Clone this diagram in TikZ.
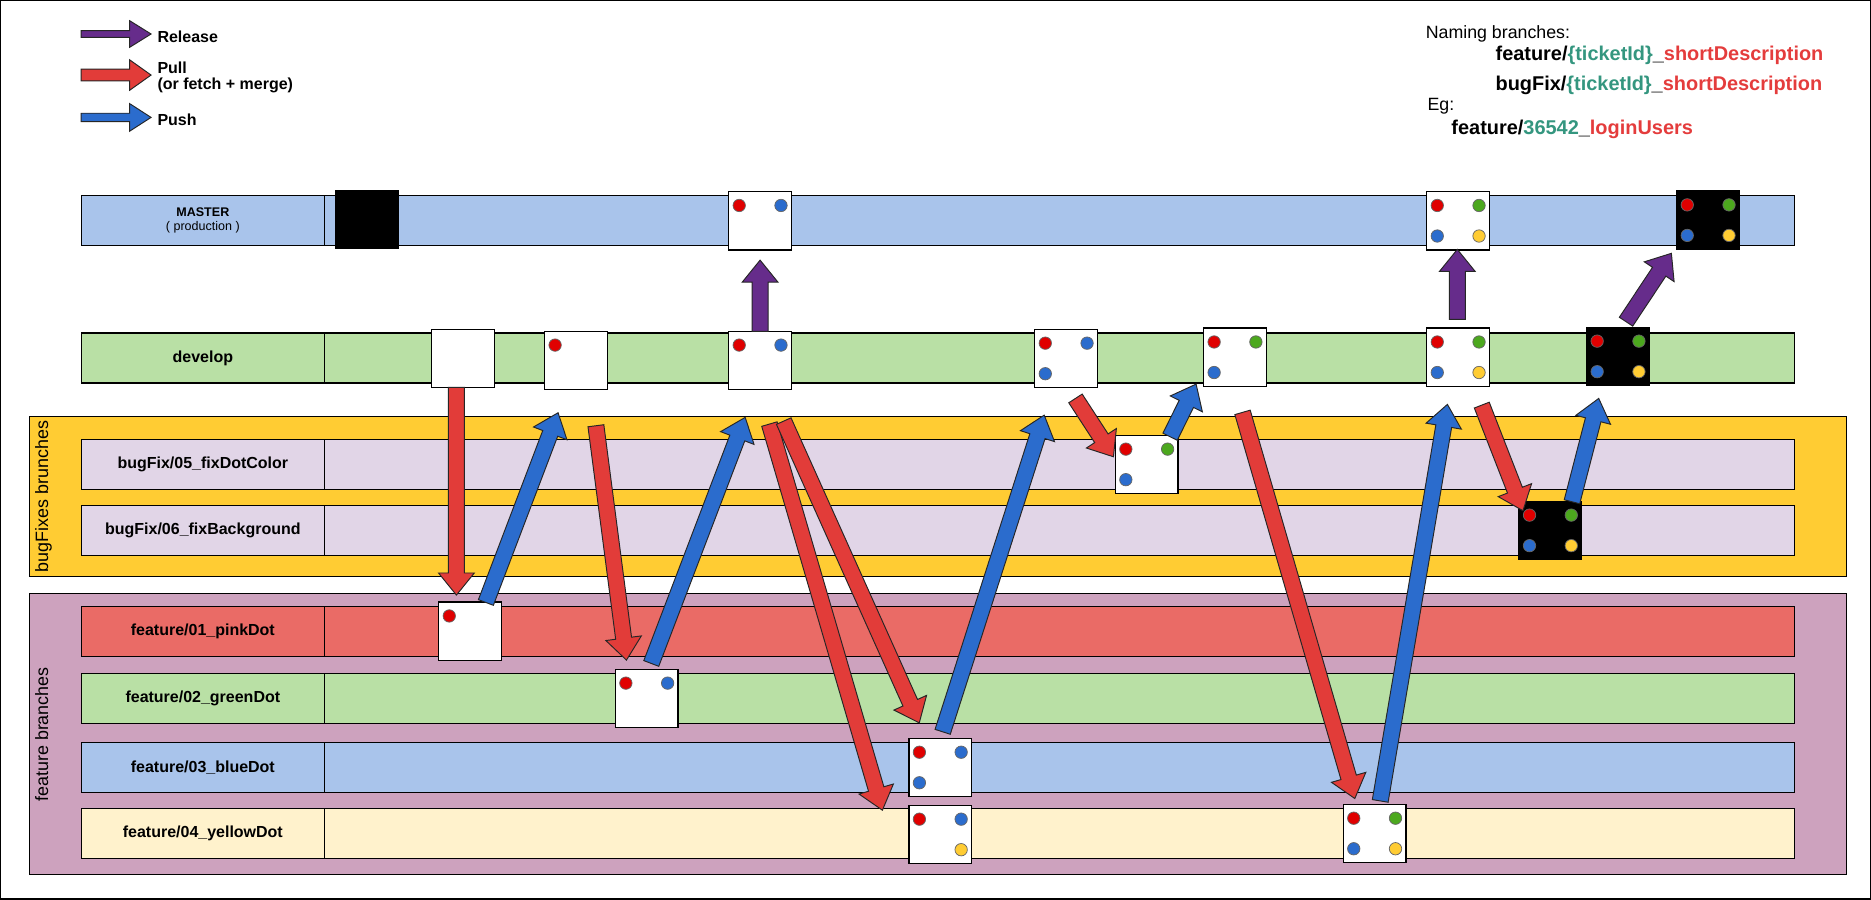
\documentclass[tikz,border=0pt]{standalone}
\usepackage{fontspec}
\setmainfont{Liberation Sans}
\usetikzlibrary{calc}

\definecolor{masterblue}{HTML}{A9C4EB}
\definecolor{devgreen}{HTML}{B9E0A5}
\definecolor{fixorange}{HTML}{FFCC33}
\definecolor{fixlilac}{HTML}{E1D5E7}
\definecolor{featmauve}{HTML}{CDA2BE}
\definecolor{pinkred}{HTML}{EA6B66}
\definecolor{lightyellow}{HTML}{FFF2CC}
\definecolor{pullred}{HTML}{E23C39}
\definecolor{pushblue}{HTML}{2B6CCD}
\definecolor{relpurple}{HTML}{662C8B}
\definecolor{dred}{HTML}{E00000}
\definecolor{dblue}{HTML}{2B6CCD}
\definecolor{dgreen}{HTML}{4CA81E}
\definecolor{dyellow}{HTML}{FFCC33}
\definecolor{idteal}{HTML}{34967F}
\definecolor{descred}{HTML}{E43C3C}

\tikzset{
	bodyw/.store in=\bodyw, headw/.store in=\headw, headl/.store in=\headl,
	bodyw=3.35pt, headw=7.5pt, headl=9.25pt,
	blockarrow/.style={draw=black!85, line width=0.4pt, fill=#1, line join=miter,
		to path={(\tikztostart) coordinate (bas) (\tikztotarget) coordinate (bat)
			($(bat)!\headl!(bas)$) coordinate (bah)
			($(bas)!\bodyw!90:(bat)$) -- ($(bah)!\bodyw!90:(bat)$) -- ($(bah)!\headw!90:(bat)$)
			-- (bat) -- ($(bah)!\headw!-90:(bat)$) -- ($(bah)!\bodyw!-90:(bat)$)
			-- ($(bas)!\bodyw!-90:(bat)$) -- cycle}},
	pullarrow/.style={blockarrow=pullred},
	pusharrow/.style={blockarrow=pushblue},
	releasearrow/.style={blockarrow=relpurple},
	lane/.style={draw, line width=0.5pt, fill=#1, minimum width=616pt, minimum height=21pt, inner sep=0pt},
	lanelabel/.style={draw, line width=0.5pt, fill=#1, minimum width=102pt, minimum height=21pt,
		inner sep=0pt, font=\bfseries\fontsize{6.7}{8}\selectfont},
	branchgroup/.style={draw, line width=0.5pt, fill=#1},
	grouptxt/.style={rotate=90, inner sep=0pt, font=\fontsize{7.5}{9}\selectfont},
	commit/.style={draw, line width=0.5pt, fill=white, minimum width=26.25pt, minimum height=24.5pt, inner sep=0pt},
	dot/.style={circle, draw=black!60, line width=0.3pt, fill=#1, minimum size=5.2pt, inner sep=0pt},
	dotTL/.style={xshift=-8.75pt, yshift=6.4pt},
	dotTR/.style={xshift=8.75pt, yshift=6.4pt},
	dotBL/.style={xshift=-8.75pt, yshift=-6.4pt},
	dotBR/.style={xshift=8.75pt, yshift=-6.4pt},
	legendtxt/.style={anchor=base west, inner sep=0pt, font=\bfseries\fontsize{6.7}{8}\selectfont},
	nametxt/.style={anchor=base west, inner sep=0pt, font=\bfseries\fontsize{8.35}{10}\selectfont},
	plaintxt/.style={anchor=base west, inner sep=0pt, font=\fontsize{7.45}{9}\selectfont}
}

\begin{document}
\begin{tikzpicture}[x=0.5pt, y=-0.5pt]
	\useasboundingbox (0,0) rectangle (1568,754);
	\draw[line width=0.6pt] (0.6,0.6) rectangle (1567.4,753.4);

	% legend
	\draw[releasearrow, bodyw=1.4pt, headw=5.6pt, headl=9pt] (68,28.5) to (126.6,28.5);
	\draw[pullarrow, bodyw=2.45pt, headw=6.4pt, headl=9pt] (68,62.9) to (126.6,62.9);
	\draw[pusharrow, bodyw=1.75pt, headw=5.8pt, headl=9pt] (68,98.4) to (126.6,98.4);
	\node[legendtxt] (relText) at (131.6,35.8) {Release};
	\node[legendtxt] (pullText) at (131.6,62) {Pull};
	\node[legendtxt] (pullNote) at (131.6,75.4) {(or fetch + merge)};
	\node[legendtxt] (pushText) at (131.6,105.3) {Push};

	% naming rules
	\node[plaintxt] (namingTitle) at (1194.5,32) {Naming branches:};
	\node[nametxt] (featRule) at (1253,50.3) {feature/\textcolor{idteal}{\{ticketId\}}\_\textcolor{descred}{shortDescription}};
	\node[nametxt] (fixRule) at (1253,76) {bugFix/\textcolor{idteal}{\{ticketId\}}\_\textcolor{descred}{shortDescription}};
	\node[plaintxt] (egText) at (1196,93) {Eg:};
	\node[nametxt] (egRule) at (1216,113) {feature/\textcolor{idteal}{36542}\_\textcolor{descred}{loginUsers}};

	% groups
	\draw[branchgroup=fixorange] (24.7,349) rectangle (1547.6,482.8);
	\draw[branchgroup=featmauve] (24.7,497.3) rectangle (1547.6,732.8);
	\node[grouptxt] (fixTitle) at (36.5,416) {bugFixes brunches};
	\node[grouptxt] (featTitle) at (35,615.5) {feature branches};

	% branches
	\node[lanelabel=masterblue, font=\fontsize{5.25}{6}\selectfont, align=center] (masterL) at (170,185) {\textbf{MASTER}\\( production )};
	\node[lane=masterblue] (master) at (888,185) {};
	\node[lanelabel=devgreen] (developL) at (170,300) {develop};
	\node[lane=devgreen] (develop) at (888,300) {};
	\node[lanelabel=fixlilac] (fix05L) at (170,389.2) {bugFix/05\_fixDotColor};
	\node[lane=fixlilac] (fix05) at (888,389.2) {};
	\node[lanelabel=fixlilac] (fix06L) at (170,444.5) {bugFix/06\_fixBackground};
	\node[lane=fixlilac] (fix06) at (888,444.5) {};
	\node[lanelabel=pinkred] (feat01L) at (170,529.2) {feature/01\_pinkDot};
	\node[lane=pinkred] (feat01) at (888,529.2) {};
	\node[lanelabel=devgreen] (feat02L) at (170,585.3) {feature/02\_greenDot};
	\node[lane=devgreen] (feat02) at (888,585.3) {};
	\node[lanelabel=masterblue] (feat03L) at (170,643.2) {feature/03\_blueDot};
	\node[lane=masterblue] (feat03) at (888,643.2) {};
	\node[lanelabel=lightyellow] (feat04L) at (170,698.5) {feature/04\_yellowDot};
	\node[lane=lightyellow] (feat04) at (888,698.5) {};

	% commits
	\node[commit, fill=black] (m0) at (307.5,184) {};
	\node[commit] (m1) at (637,185) {};
	\node[commit] (m2) at (1222,185) {};
	\node[commit, fill=black] (m3) at (1431.5,184.5) {};
	\node[commit] (d0) at (388,300.4) {};
	\node[commit] (d1) at (482.7,302) {};
	\node[commit] (d2) at (637,302) {};
	\node[commit] (d3) at (893.5,300.4) {};
	\node[commit] (d4) at (1035,299.4) {};
	\node[commit] (d5) at (1222,299.4) {};
	\node[commit, fill=black] (d6) at (1356,298.7) {};
	\node[commit] (b0) at (961,389.2) {};
	\node[commit, fill=black] (b1) at (1299.3,444.5) {};
	\node[commit] (f0) at (394,529) {};
	\node[commit] (f1) at (542,585.3) {};
	\node[commit] (f2) at (788,643.2) {};
	\node[commit] (f3) at (788,699.3) {};
	\node[commit] (f4) at (1152,698.5) {};

	% dots
	\foreach \c in {m2,m3,d5,d6,b1,f4}
		\foreach \p/\col in {dotTL/dred,dotTR/dgreen,dotBL/dblue,dotBR/dyellow}
			\node[dot=\col, \p] (\c-\p) at (\c) {};
	\foreach \c/\p/\col in {m1/dotTL/dred, m1/dotTR/dblue, d1/dotTL/dred, d2/dotTL/dred, d2/dotTR/dblue,
		d3/dotTL/dred, d3/dotTR/dblue, d3/dotBL/dblue, d4/dotTL/dred, d4/dotTR/dgreen, d4/dotBL/dblue,
		b0/dotTL/dred, b0/dotTR/dgreen, b0/dotBL/dblue, f0/dotTL/dred, f1/dotTL/dred, f1/dotTR/dblue,
		f2/dotTL/dred, f2/dotTR/dblue, f2/dotBL/dblue, f3/dotTL/dred, f3/dotTR/dblue, f3/dotBR/dyellow}
		\node[dot=\col, \p] (\c-\p) at (\c) {};

	% pull
	\draw[pullarrow] ($(d0)+(-5.5,24.3)$) to ($(f0)+(-11.5,-30.3)$);
	\draw[pullarrow] ($(d1)+(16.7,54.8)$) to ($(f1)+(-17,-32.1)$);
	\draw[pullarrow] ($(d2)+(7.8,53.4)$) to ($(f3)+(-48.5,-20.3)$);
	\draw[pullarrow] ($(d2)+(19.8,50.9)$) to ($(f2)+(-17.6,-37.4)$);
	\draw[pullarrow] ($(d3)+(7.8,33.5)$) to ($(b0)+(-27.9,-6.4)$);
	\draw[pullarrow] ($(d4)+(6.3,46.2)$) to ($(f4)+(-16.6,-29.3)$);
	\draw[pullarrow] ($(d5)+(19.8,40.1)$) to ($(b1)+(-23,-16.5)$);
	% push
	\draw[pusharrow] ($(f0)+(13.2,-24.1)$) to ($(d1)+(-15,43.9)$);
	\draw[pusharrow] ($(f1)+(3.8,-29.3)$) to ($(d2)+(-12.5,47.8)$);
	\draw[pusharrow] ($(f2)+(2,-29.9)$) to ($(d3)+(-18.4,47.5)$);
	\draw[pusharrow] ($(b0)+(19.6,-23.2)$) to ($(d4)+(-32.6,22.5)$);
	\draw[pusharrow] ($(f4)+(4.7,-27.3)$) to ($(d5)+(-9,39.5)$);
	\draw[pusharrow] ($(b1)+(18.1,-24)$) to ($(d6)+(-16.2,35.2)$);
	% release
	\draw[releasearrow] ($(d2)+(0,-24.3)$) to ($(m1)+(0,33)$);
	\draw[releasearrow] ($(d5)+(-0.7,-31.7)$) to ($(m2)+(-0.7,24)$);
	\draw[releasearrow] ($(d6)+(6.7,-29.1)$) to ($(m3)+(-30.8,27.8)$);
\end{tikzpicture}
\end{document}
